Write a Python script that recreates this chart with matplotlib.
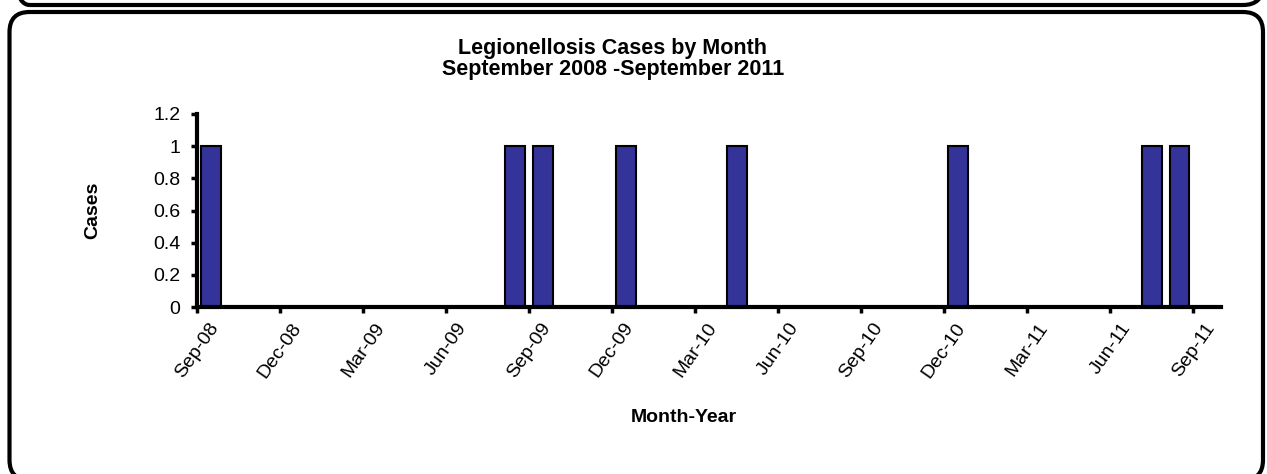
import matplotlib
matplotlib.use('Agg')
import matplotlib.pyplot as plt
from matplotlib.patches import FancyBboxPatch
import numpy as np
import pandas as pd

plt.rcParams['font.family'] = ['Liberation Sans', 'DejaVu Sans']

# monthly counts, Sep-08 .. Sep-11
months = pd.period_range('2008-09', '2011-09', freq='M')
cases = [1, 0, 0, 0, 0, 0, 0, 0, 0, 0, 0, 1, 1,
         0, 0, 1, 0, 0, 0, 1, 0, 0, 0, 0, 0, 0, 0, 1,
         0, 0, 0, 0, 0, 0, 1, 1, 0]
tick_labels = [p.strftime('%b-%y') for p in months[::3]]
yticks = [0, 0.2, 0.4, 0.6, 0.8, 1, 1.2]
ytick_labels = ['0', '0.2', '0.4', '0.6', '0.8', '1', '1.2']

W, H = 1267, 474
fig = plt.figure(figsize=(W / 100, H / 100), dpi=100)

# rounded panel frames, drawn in pixel units (y measured from the top)
bg = fig.add_axes([0, 0, 1, 1], zorder=0)
bg.set_xlim(0, W)
bg.set_ylim(0, H)
bg.axis('off')
for x0, top, x1, bottom in [(9.5, -100, 1263, 5), (9.5, 12, 1263, 480)]:
    bg.add_patch(FancyBboxPatch((x0, H - bottom), x1 - x0, bottom - top,
                                boxstyle='round,pad=0,rounding_size=20',
                                fill=False, lw=3, ec='black', clip_on=False))

ax = fig.add_axes([197 / W, (H - 307) / H, 1024 / W, 193 / H], zorder=1)
ax.patch.set_alpha(0)
x = np.arange(len(cases)) + 0.5
ax.bar(x, cases, width=0.72, color='#333399', edgecolor='black', lw=1.5, zorder=2)

ax.set_xlim(0, len(cases))
ax.set_ylim(0, 1.2)
ax.set_xticks(np.arange(0, len(cases), 3))
ax.set_xticklabels(tick_labels, rotation=55, fontsize=14)
ax.set_yticks(yticks)
ax.set_yticklabels(ytick_labels, fontsize=14)

for s in ['top', 'right']:
    ax.spines[s].set_visible(False)
for s in ['left', 'bottom']:
    ax.spines[s].set_linewidth(3)
    ax.spines[s].set_zorder(3)
ax.tick_params(axis='both', direction='out', length=4, width=2.5)
ax.tick_params(axis='y', pad=8)
ax.tick_params(axis='x', pad=5)

fig.text(613 / W, 1 - 59 / H, 'Legionellosis Cases by Month\nSeptember 2008 -September 2011',
         ha='center', va='center', fontsize=15.5, fontweight='bold', linespacing=1.0)
fig.text(93 / W, 1 - 210 / H, 'Cases', rotation=90, ha='center', va='center',
         fontsize=14, fontweight='bold')
fig.text(684 / W, 1 - 418 / H, 'Month-Year', ha='center', va='center',
         fontsize=14, fontweight='bold')

fig.savefig('out.png', dpi=100)
